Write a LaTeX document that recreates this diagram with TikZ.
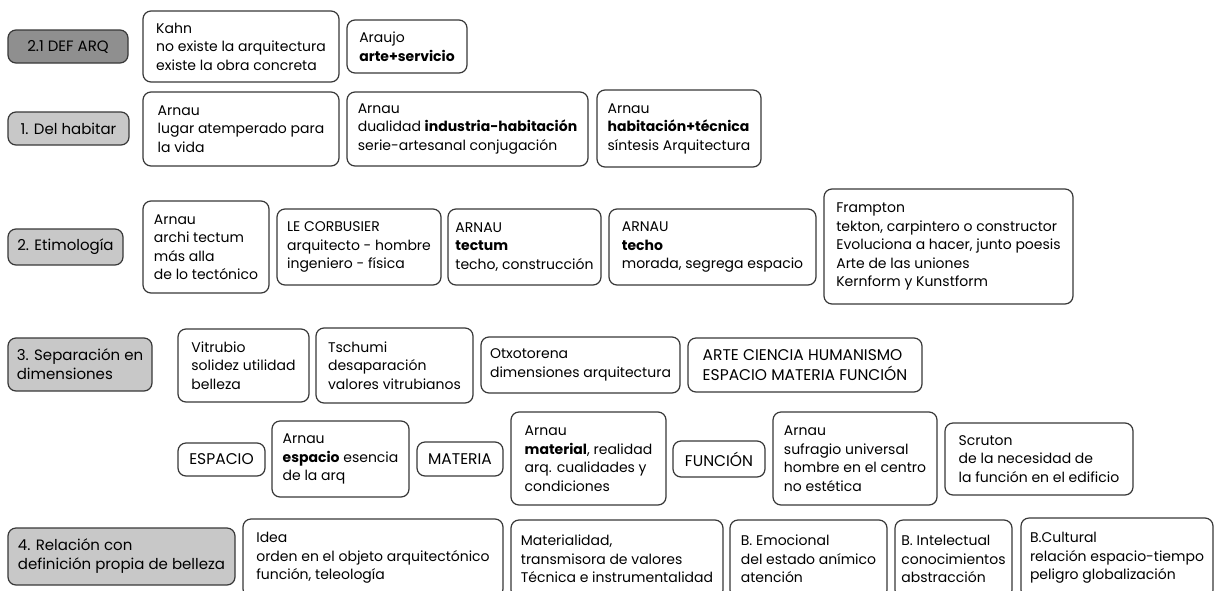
\documentclass[tikz,border=0pt]{standalone}
\usepackage{fontspec}
\setmainfont{Poppins}
\usepackage{xcolor}
\usepackage{tikz}
\definecolor{grisosc}{HTML}{8F8F8F}
\definecolor{grisclaro}{HTML}{C8C8C8}
\definecolor{borde}{HTML}{383838}
\newcommand{\letra}{\fontsize{14}{18.5}\selectfont}

\begin{document}
\begin{tikzpicture}[x=1pt,y=-1pt,
  caja/.style={draw=borde,line width=1.2pt,rounded corners=8pt,fill=white,
    anchor=north west,outer sep=0pt,inner sep=0pt,align=left,font=\letra},
  tema/.style={caja,fill=grisclaro,font=\fontsize{15}{19}\selectfont},
  temaosc/.style={caja,fill=grisosc,font=\fontsize{15}{19}\selectfont},
  mayus/.style={caja,font=\fontsize{15.5}{19.5}\selectfont}]
  \fill[white] (0,0) rectangle (1216,590);
  \useasboundingbox (0,0) rectangle (1216,590);
  % 2.1
  \node[temaosc,minimum width=120,minimum height=33] (defarq) at (8,30) {2.1 DEF ARQ};
  \node[caja,minimum width=196,minimum height=71] (kahn) at (143,11) {Kahn\\no existe la arquitectura\\existe la obra concreta};
  \node[caja,minimum width=120,minimum height=53] (araujo) at (347,20) {Araujo\\\textbf{arte+servicio}};
  % 1
  \node[tema,minimum width=121,minimum height=33] (habitar) at (8,112) {1. Del habitar};
  \node[caja,minimum width=196,minimum height=74] (lugar) at (143,92) {Arnau\\lugar atemperado para\\la vida};
  \node[caja,minimum width=241,minimum height=74] (dualidad) at (347,92) {Arnau\\dualidad \textbf{industria-habitación}\\serie-artesanal conjugación};
  \node[caja,minimum width=164,minimum height=77] (habtec) at (597,90) {Arnau\\\textbf{habitación+técnica}\\síntesis Arquitectura};
  % 2
  \node[tema,minimum width=115,minimum height=36] (etimo) at (8,229) {2. Etimología};
  \node[caja,minimum width=126,minimum height=92] (archi) at (143,201) {Arnau\\archi tectum\\más alla\\de lo tectónico};
  \node[caja,minimum width=164,minimum height=76] (corbu) at (277,209) {LE CORBUSIER\\arquitecto - hombre\\ingeniero - física};
  \node[caja,minimum width=153,minimum height=76] (tectum) at (448,209) {ARNAU\\\textbf{tectum}\\techo, construcción};
  \node[caja,minimum width=207,minimum height=76] (techo) at (609,209) {ARNAU\\\textbf{techo}\\morada, segrega espacio};
  \node[caja,minimum width=249,minimum height=115] (frampton) at (824,189) {Frampton\\tekton, carpintero o constructor\\Evoluciona a hacer, junto poesis\\Arte de las uniones\\Kernform y Kunstform};
  % 3
  \node[tema,minimum width=144,minimum height=53] (separa) at (8,338) {3. Separación en\\dimensiones};
  \node[caja,minimum width=131,minimum height=73] (vitru) at (178,329) {Vitrubio\\solidez utilidad\\belleza};
  \node[caja,minimum width=157,minimum height=75] (tschumi) at (316,328) {Tschumi\\desaparación\\valores vitrubianos};
  \node[caja,minimum width=199,minimum height=56] (otxo) at (481,337) {Otxotorena\\dimensiones arquitectura};
  \node[mayus,minimum width=234,minimum height=54] (arte) at (688,338) {ARTE CIENCIA HUMANISMO\\ESPACIO MATERIA FUNCIÓN};
  \node[mayus,minimum width=87,minimum height=33] (espacio) at (178,443) {ESPACIO};
  \node[caja,minimum width=137,minimum height=76] (arnesp) at (272,421) {Arnau\\\textbf{espacio} esencia\\de la arq};
  \node[mayus,minimum width=86,minimum height=34] (materia) at (417,442) {MATERIA};
  \node[caja,minimum width=155,minimum height=93] (arnmat) at (511,412) {Arnau\\\textbf{material}, realidad\\arq. cualidades y\\condiciones};
  \node[mayus,minimum width=92,minimum height=36] (funcion) at (673,441) {FUNCIÓN};
  \node[caja,minimum width=164,minimum height=93] (arnfun) at (773,412) {Arnau\\sufragio universal\\hombre en el centro\\no estética};
  \node[caja,minimum width=188,minimum height=72] (scruton) at (945,423) {Scruton\\de la necesidad de\\la función en el edificio};
  % 4
  \node[tema,minimum width=227,minimum height=57] (belleza) at (8,528) {4. Relación con\\definición propia de belleza};
  \node[caja,minimum width=260,minimum height=78] (idea) at (243,519) {Idea\\orden en el objeto arquitectónico\\función, teleología};
  \node[caja,minimum width=212,minimum height=78] (materialidad) at (511,520) {Materialidad,\\transmisora de valores\\Técnica e instrumentalidad};
  \node[caja,minimum width=157,minimum height=78] (emocional) at (730,520) {B. Emocional\\del estado anímico\\atención};
  \node[caja,minimum width=117,minimum height=78] (intelectual) at (895,520) {B. Intelectual\\conocimientos\\abstracción};
  \node[caja,minimum width=192,minimum height=80] (cultural) at (1021,518) {B.Cultural\\relación espacio-tiempo\\peligro globalización};
\end{tikzpicture}
\end{document}
